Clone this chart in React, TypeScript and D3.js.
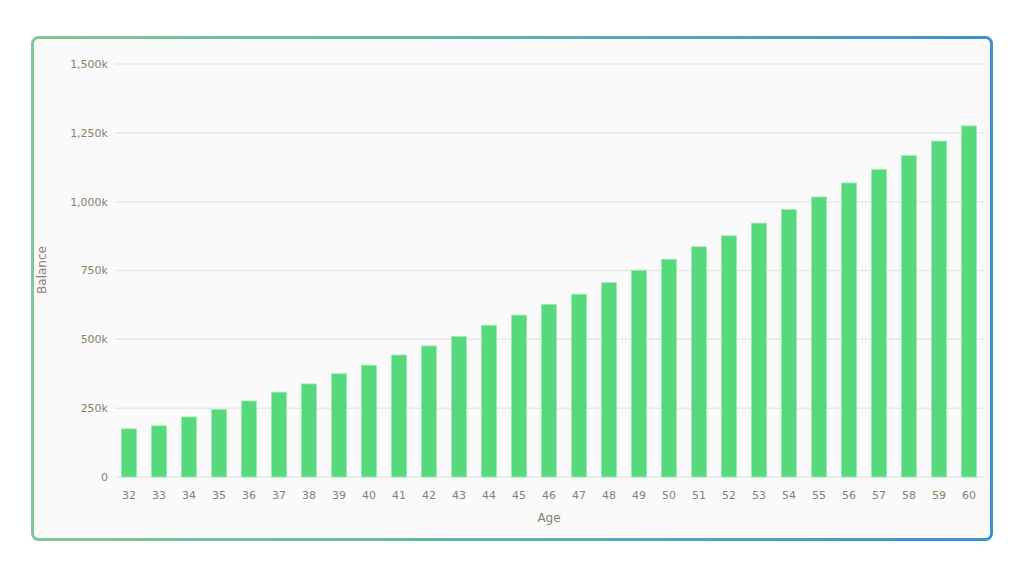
import React from "react";
import * as d3 from "d3";

const WIDTH = 1024;
const HEIGHT = 576;

// ages on the x axis
const ages = [
  32, 33, 34, 35, 36, 37, 38, 39, 40, 41, 42, 43, 44, 45, 46,
  47, 48, 49, 50, 51, 52, 53, 54, 55, 56, 57, 58, 59, 60,
];

// balance in thousands
const balances = [
  175, 186, 218, 245, 276, 308, 338, 375, 406, 443, 476, 510, 551, 588, 627,
  664, 706, 751, 791, 836, 876, 922, 971, 1017, 1068, 1117, 1167, 1220, 1275,
];

const yTicks = [0, 250, 500, 750, 1000, 1250, 1500];

const TEXT = "#8a806e";
const FONT = "'DejaVu Sans', sans-serif";

export default function App() {
  const x = d3
    .scaleBand<number>()
    .domain(ages)
    .range([114, 984])
    .paddingInner(0.5)
    .paddingOuter(0.25);

  const y = d3.scaleLinear().domain([0, 1500]).range([477, 64]);

  const fmt = (v: number) => (v === 0 ? "0" : d3.format(",")(v) + "k");

  return (
    <svg
      width={WIDTH}
      height={HEIGHT}
      style={{ position: "absolute", left: 0, top: 0, background: "#fff" }}
    >
      <defs>
        <linearGradient id="border" x1="0" x2="1" y1="0" y2="0">
          <stop offset="0%" stopColor="#80c993" />
          <stop offset="50%" stopColor="#5db3ad" />
          <stop offset="100%" stopColor="#3a90d1" />
        </linearGradient>
      </defs>
      <rect
        x={32.5}
        y={37.5}
        width={959}
        height={502}
        rx={6}
        fill="#fafafa"
        stroke="url(#border)"
        strokeWidth={3}
      />

      {/* grid + y labels */}
      <g fontFamily={FONT} fontSize={11} fill={TEXT}>
        {yTicks.map((t) => (
          <g key={t}>
            <line
              x1={115}
              x2={985}
              y1={y(t)}
              y2={y(t)}
              stroke={t === 0 ? "#dcefdf" : "#e8e8e8"}
              strokeWidth={1.5}
            />
            <text x={108} y={y(t)} dy="0.35em" textAnchor="end">
              {fmt(t)}
            </text>
          </g>
        ))}
      </g>

      {/* bars */}
      <g>
        {ages.map((a, i) => (
          <rect
            key={a}
            x={x(a)}
            y={y(balances[i])}
            width={x.bandwidth()}
            height={y(0) - y(balances[i])}
            fill="#55d97a"
            stroke="#9ceab2"
            strokeWidth={0.8}
          />
        ))}
      </g>

      {/* x labels */}
      <g fontFamily={FONT} fontSize={11} fill={TEXT} textAnchor="middle">
        {ages.map((a) => (
          <text key={a} x={x(a)! + x.bandwidth() / 2} y={499}>
            {a}
          </text>
        ))}
        <text x={549} y={522} fontSize={12}>
          Age
        </text>
        <text
          transform={`translate(46,${270}) rotate(-90)`}
          fontSize={12}
        >
          Balance
        </text>
      </g>
    </svg>
  );
}
